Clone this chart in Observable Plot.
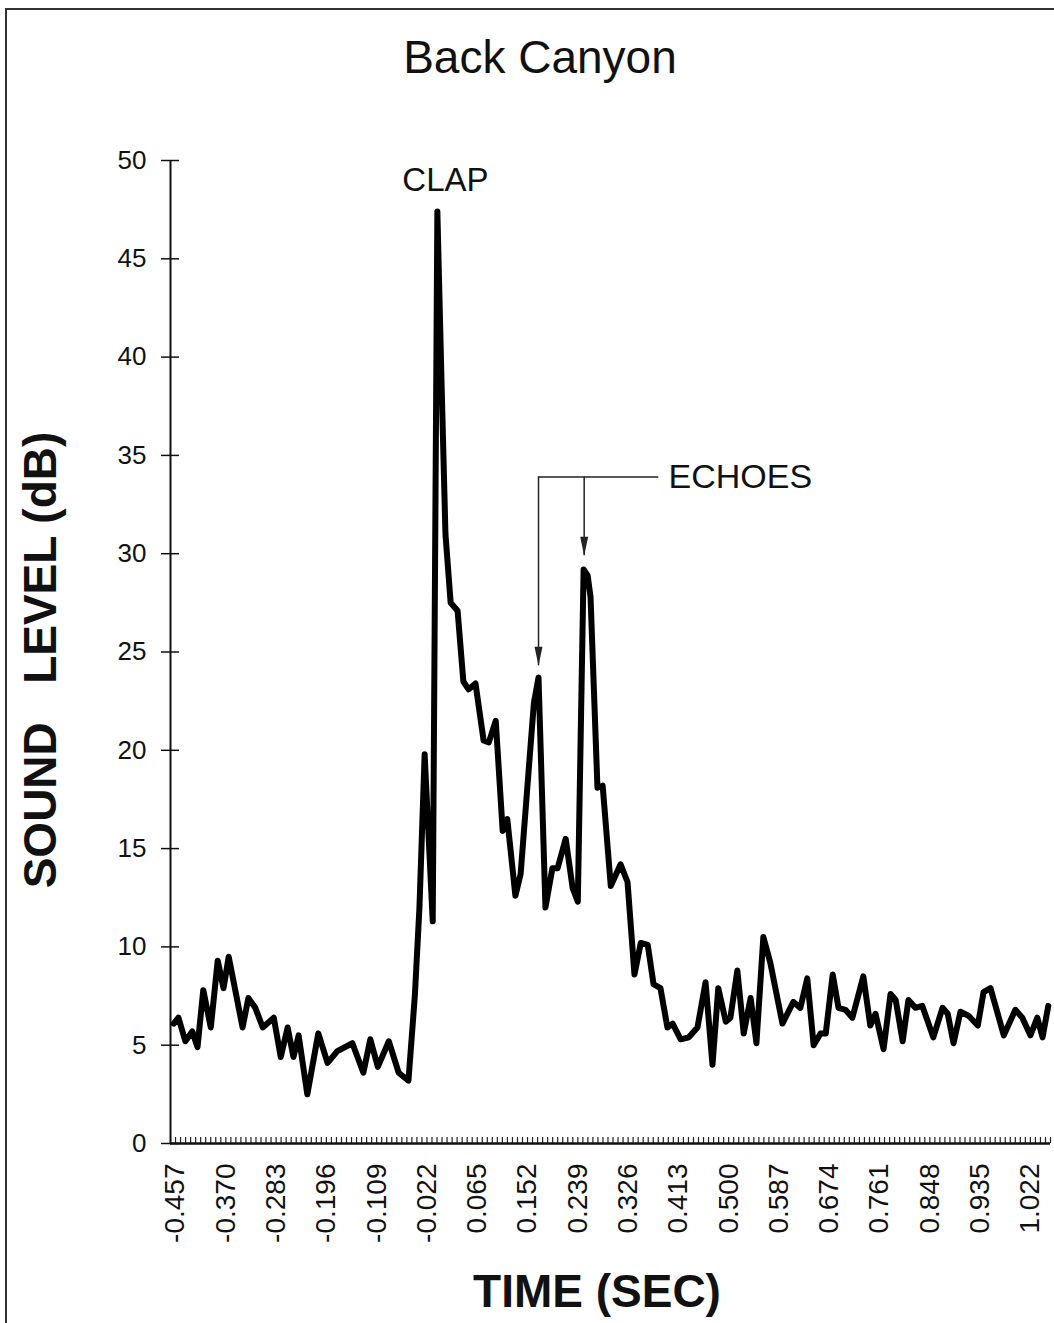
<!DOCTYPE html>
<html>
<head>
<meta charset="utf-8">
<script src="https://cdn.jsdelivr.net/npm/d3@7"></script>
<script src="https://cdn.jsdelivr.net/npm/@observablehq/plot@0.6"></script>
<style>
  html, body { margin: 0; padding: 0; background: #fff; }
  #page { position: relative; width: 1054px; height: 1323px; overflow: hidden; background: #fff; font-family: "Liberation Sans", Arial, sans-serif; }
  #frame { position: absolute; left: 5px; top: 8px; width: 1070px; height: 1340px; border: 2px solid #333; box-sizing: border-box; }
  #chart { position: absolute; left: 0; top: 0; }
  .lbl { position: absolute; color: #111; white-space: pre; text-align: center; }
  #title { left: 240px; width: 600px; top: 30px; font-size: 46px; line-height: 54px; }
  #ytitle { left: -260px; width: 600px; top: 633px; font-size: 46px; line-height: 54px; font-weight: bold; transform: rotate(-90deg); transform-origin: 300px 27px; }
  #xtitle { left: 297px; width: 600px; top: 1264px; font-size: 46px; line-height: 54px; font-weight: bold; }
</style>
</head>
<body>
<div id="page">
  <div id="frame"></div>
  <div id="chart"></div>
  <div class="lbl" id="title"></div>
  <div class="lbl" id="ytitle"></div>
  <div class="lbl" id="xtitle"></div>
</div>
<script>
// ---- Text ----
const chartTitle = "Back Canyon";
const yTitle = "SOUND   LEVEL (dB)";
const xTitle = "TIME (SEC)";
const clapLabel = "CLAP";
const echoLabel = "ECHOES";

// ---- Series (time in s, sound level in dB) ----
const time = [
  -0.460, -0.452, -0.440, -0.428, -0.419, -0.409, -0.396, -0.384, -0.374, -0.365,
  -0.341, -0.331, -0.319, -0.306, -0.287, -0.275, -0.263, -0.253, -0.244, -0.229,
  -0.210, -0.194, -0.177, -0.151, -0.132, -0.120, -0.107, -0.088, -0.071, -0.054,
  -0.043, -0.035, -0.026, -0.012, -0.004, 0.003, 0.010, 0.019, 0.031, 0.041,
  0.050, 0.062, 0.076, 0.085, 0.097, 0.109, 0.117, 0.131, 0.140, 0.154,
  0.163, 0.171, 0.183, 0.195, 0.204, 0.218, 0.230, 0.239, 0.249, 0.256, 0.261, 0.273,
  0.282, 0.296, 0.313, 0.325, 0.337, 0.348, 0.360, 0.370, 0.382, 0.394,
  0.403, 0.417, 0.431, 0.446, 0.460, 0.472, 0.482, 0.495, 0.503, 0.515,
  0.526, 0.538, 0.548, 0.560, 0.572, 0.593, 0.612, 0.624, 0.636, 0.647,
  0.659, 0.668, 0.680, 0.690, 0.702, 0.714, 0.733, 0.745, 0.754, 0.768,
  0.780, 0.789, 0.801, 0.811, 0.823, 0.835, 0.854, 0.870, 0.879, 0.889,
  0.901, 0.915, 0.931, 0.941, 0.953, 0.976, 0.996, 1.008, 1.022, 1.034,
  1.043, 1.053
];
const level = [
  6.1, 6.4, 5.2, 5.7, 4.9, 7.8, 5.9, 9.3, 7.9, 9.5,
  5.9, 7.4, 6.9, 5.9, 6.4, 4.4, 5.9, 4.4, 5.5, 2.5,
  5.6, 4.1, 4.7, 5.1, 3.6, 5.3, 3.9, 5.2, 3.6, 3.2,
  7.5, 12.0, 19.8, 11.3, 47.4, 39.0, 31.0, 27.5, 27.1, 23.5,
  23.1, 23.4, 20.5, 20.4, 21.5, 15.9, 16.5, 12.6, 13.7, 19.0,
  22.4, 23.7, 12.0, 14.0, 14.0, 15.5, 13.0, 12.3, 29.2, 28.9, 27.8, 18.1,
  18.2, 13.1, 14.2, 13.3, 8.6, 10.2, 10.1, 8.1, 7.9, 5.9,
  6.1, 5.3, 5.4, 5.9, 8.2, 4.0, 7.9, 6.2, 6.4, 8.8,
  5.6, 7.4, 5.1, 10.5, 9.2, 6.1, 7.2, 6.9, 8.4, 5.0,
  5.6, 5.6, 8.6, 6.9, 6.8, 6.4, 8.5, 6.0, 6.6, 4.8,
  7.6, 7.3, 5.2, 7.3, 6.9, 7.0, 5.4, 6.9, 6.6, 5.1,
  6.7, 6.5, 6.0, 7.7, 7.9, 5.5, 6.8, 6.4, 5.5, 6.4,
  5.4, 7.0
];

// ---- Axes ----
const xTickLabels = [-0.457, -0.370, -0.283, -0.196, -0.109, -0.022, 0.065, 0.152, 0.239,
                     0.326, 0.413, 0.500, 0.587, 0.674, 0.761, 0.848, 0.935, 1.022];
const yTicks = [0, 5, 10, 15, 20, 25, 30, 35, 40, 45, 50];
const xDomain = [-0.4657, 1.0568];
const yDomain = [0, 50];
const sampleStep = 0.0087;

// ---- Annotations (data coordinates) ----
const clapAt = {time: 0.010, level: 49.0};
const echoTextAt = {time: 0.396, level: 33.9};
const echoBracket = {from: 0.171, to: 0.379, level: 33.9};
const echoArrowTimes = [0.171, 0.250];
const echoArrowTips = [24.3, 29.9];

// ---- Build ----
const data = time.map((t, i) => ({time: t, level: level[i]}));
const arrows = echoArrowTimes.map((t, i) => ({time: t, tip: echoArrowTips[i], top: echoBracket.level}));
const minorTicks = d3.range(xTickLabels[0], xDomain[1], sampleStep);
const font = "Liberation Sans, Arial, sans-serif";

const arrowHead = {
  draw(ctx) {
    ctx.moveTo(-4, -19);
    ctx.lineTo(4, -19);
    ctx.lineTo(0, 0);
    ctx.closePath();
  }
};

const chart = Plot.plot({
  width: 1054,
  height: 1323,
  marginTop: 160,
  marginBottom: 180,
  marginLeft: 170,
  marginRight: 4,
  style: {fontFamily: font, color: "#111", background: "transparent"},
  x: {domain: xDomain},
  y: {domain: yDomain},
  marks: [
    // minor ticks along x axis (inside)
    Plot.axisX({ticks: minorTicks, tickSize: 6, dy: -6, text: null, strokeWidth: 1.2, stroke: "#222"}),
    // x tick labels
    Plot.axisX({ticks: xTickLabels, tickSize: 0, tickPadding: 20, tickRotate: -90,
                tickFormat: d => d.toFixed(3), fontSize: 28, label: null, fill: "#111"}),
    // y ticks crossing the axis
    Plot.axisY({ticks: yTicks, tickSize: 18, dx: 9, text: null, strokeWidth: 1.5, stroke: "#111"}),
    Plot.axisY({ticks: yTicks, tickSize: 0, tickPadding: 24, fontSize: 26, label: null, fill: "#111"}),
    // axis lines
    Plot.ruleX([xDomain[0]], {y1: yDomain[0], y2: yDomain[1], stroke: "#111", strokeWidth: 2}),
    Plot.ruleY([0], {stroke: "#111", strokeWidth: 2.5}),
    // series
    Plot.line(data, {x: "time", y: "level", stroke: "#000", strokeWidth: 6,
                     strokeLinejoin: "round", strokeLinecap: "round"}),
    // annotations
    Plot.text([clapAt], {x: "time", y: "level", text: [clapLabel], fontSize: 33,
                         textAnchor: "middle", fill: "#111"}),
    Plot.ruleY([echoBracket], {x1: "from", x2: "to", y: "level", stroke: "#222", strokeWidth: 1.5}),
    Plot.ruleX(arrows, {x: "time", y1: "top", y2: "tip", stroke: "#222", strokeWidth: 1.5}),
    Plot.dot(arrows, {x: "time", y: "tip", symbol: arrowHead, fill: "#222", stroke: "none", r: 5}),
    Plot.text([echoTextAt], {x: "time", y: "level", text: [echoLabel], fontSize: 34,
                             textAnchor: "start", fill: "#111"})
  ]
});

document.getElementById("chart").appendChild(chart);
document.getElementById("title").textContent = chartTitle;
document.getElementById("ytitle").textContent = yTitle;
document.getElementById("xtitle").textContent = xTitle;
</script>
</body>
</html>
